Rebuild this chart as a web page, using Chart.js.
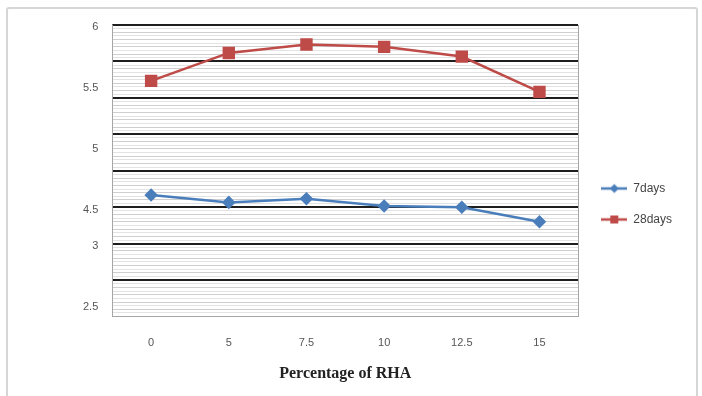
<!DOCTYPE html>
<html>
<head>
<meta charset="utf-8">
<title>Percentage of RHA</title>
<style>
  html, body { margin: 0; padding: 0; background: #ffffff; }
  #wrap { position: relative; width: 702px; height: 396px; overflow: hidden; }
  #chart { position: absolute; left: 0; top: 0; }
  #frame {
    position: absolute; left: 6px; top: 7px; width: 688px; height: 400px;
    border: 2px solid #d6d6d6; border-radius: 3px; pointer-events: none;
  }
</style>
<script src="https://cdn.jsdelivr.net/npm/chart.js@4/dist/chart.umd.min.js"></script>
</head>
<body>
<div id="wrap">
  <canvas id="chart" width="702" height="396"></canvas>
  <div id="frame"></div>
</div>
<script>
// RHA replacement levels (%) on the category axis
const categories = ['0', '5', '7.5', '10', '12.5', '15'];

// Strength at 7 and 28 days
const days7  = [4.62, 4.56, 4.59, 4.53, 4.52, 4.40];
const days28 = [5.56, 5.79, 5.86, 5.84, 5.76, 5.47];

// Value-axis labels and where they sit on the axis
const yTickValues = [6, 5.5, 5, 4.5, 4.2, 3.7];
const yTickLabels = ['6', '5.5', '5', '4.5', '3', '2.5'];

// Value-axis range and gridline spacing
const yMin = 3.62;
const yMax = 6.02;
const majorStep = 0.3;
const minorPerMajor = 10;

const BLUE = '#4a7ebb';
const RED = '#be4b48';

// Small line-with-marker swatch used as the legend symbol
function legendIcon(color, shape) {
  const c = document.createElement('canvas');
  c.width = 26; c.height = 12;
  const g = c.getContext('2d');
  g.strokeStyle = color;
  g.lineWidth = 2.5;
  g.beginPath(); g.moveTo(0, 6); g.lineTo(26, 6); g.stroke();
  g.fillStyle = color;
  if (shape === 'diamond') {
    g.beginPath();
    g.moveTo(13, 1.5); g.lineTo(17.5, 6); g.lineTo(13, 10.5); g.lineTo(8.5, 6);
    g.closePath(); g.fill();
  } else {
    g.fillRect(9, 2, 8, 8);
  }
  return c;
}
const icons = [legendIcon(BLUE, 'diamond'), legendIcon(RED, 'square')];

const minorCount = Math.round((yMax - yMin) / majorStep) * minorPerMajor;

new Chart(document.getElementById('chart'), {
  type: 'line',
  data: {
    labels: categories,
    datasets: [
      {
        label: '7days',
        data: days7,
        yAxisID: 'y',
        borderColor: BLUE,
        backgroundColor: BLUE,
        borderWidth: 2.5,
        pointStyle: 'rectRot',
        pointRadius: 5,
        pointHoverRadius: 5,
        tension: 0
      },
      {
        label: '28days',
        data: days28,
        yAxisID: 'y',
        borderColor: RED,
        backgroundColor: RED,
        borderWidth: 2.5,
        pointStyle: 'rect',
        pointRadius: 7,
        pointHoverRadius: 7,
        tension: 0
      }
    ]
  },
  options: {
    responsive: false,
    animation: false,
    events: [],
    layout: { padding: { left: 69, top: 25, right: 20, bottom: 13 } },
    plugins: {
      tooltip: { enabled: false },
      legend: {
        position: 'right',
        labels: {
          usePointStyle: true,
          pointStyleWidth: 26,
          padding: 19,
          color: '#444444',
          font: { family: '"Liberation Sans", Arial, sans-serif', size: 12 },
          generateLabels(chart) {
            const items = Chart.defaults.plugins.legend.labels.generateLabels(chart);
            items.forEach((it, i) => { it.pointStyle = icons[i]; });
            return items;
          }
        }
      }
    },
    scales: {
      x: {
        type: 'category',
        offset: true,
        grid: { display: false, drawTicks: false },
        border: { display: true, color: '#a6a6a6', width: 1 },
        ticks: {
          color: '#555555',
          padding: 20,
          font: { family: '"Liberation Sans", Arial, sans-serif', size: 11 }
        },
        title: {
          display: true,
          text: 'Percentage of RHA',
          color: '#222222',
          padding: { top: -6, bottom: 0 },
          font: { family: '"Liberation Serif", "Times New Roman", serif', size: 16, weight: 'bold' }
        }
      },
      y: {
        type: 'linear',
        position: 'left',
        min: yMin,
        max: yMax,
        afterBuildTicks(scale) {
          scale.ticks = yTickValues.slice().sort((a, b) => a - b).map(v => ({ value: v }));
        },
        grid: { display: false, drawTicks: false },
        border: { display: true, color: '#a6a6a6', width: 1 },
        ticks: {
          autoSkip: false,
          color: '#555555',
          padding: 14,
          font: { family: '"Liberation Sans", Arial, sans-serif', size: 11 },
          callback(value) {
            const k = yTickValues.indexOf(value);
            return k >= 0 ? yTickLabels[k] : '';
          }
        }
      },
      yGrid: {
        type: 'linear',
        position: 'right',
        min: yMin,
        max: yMax,
        afterBuildTicks(scale) {
          const t = [];
          for (let i = 0; i <= minorCount; i++) {
            t.push({ value: yMin + i * majorStep / minorPerMajor });
          }
          scale.ticks = t;
        },
        afterFit(scale) { scale.width = 4; },
        ticks: { display: false },
        border: { display: true, color: '#a6a6a6', width: 1 },
        grid: {
          drawTicks: false,
          color(ctx) {
            const i = ctx.index;
            if (i === 0) return '#a6a6a6';
            if (i % minorPerMajor === 0) return '#1e1e1e';
            if (i % 2 === 0) return '#cfcfcf';
            return '#e3e3e3';
          },
          lineWidth(ctx) {
            const i = ctx.index;
            return (i > 0 && i % minorPerMajor === 0) ? 2 : 1;
          }
        }
      }
    }
  }
});
</script>
</body>
</html>
